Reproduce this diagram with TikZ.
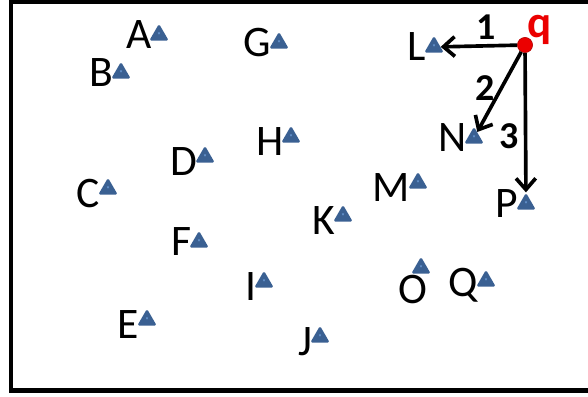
\documentclass[tikz,border=0pt]{standalone}
\usepackage{fontspec}
\setmainfont{Carlito}
\usetikzlibrary{shapes.geometric,arrows.meta,calc}

\definecolor{ptblue}{RGB}{58,96,146}
\definecolor{ptlight}{RGB}{98,144,202}
\definecolor{qred}{RGB}{235,0,0}

\tikzset{
  pt/.style={regular polygon,regular polygon sides=3,fill=ptblue,
    inner sep=0pt,minimum size=0.56cm,rounded corners=1.2pt,
    path picture={\fill[ptlight]
      ($(path picture bounding box.center)+(0,0.03)$)
      -- ++(-0.05,-0.085) -- ++(0.1,0) -- cycle;}},
  lbl/.style={font=\fontsize{31}{36}\selectfont,inner sep=0.5pt},
  lbldown/.style={lbl,yshift=-3pt},
  num/.style={font=\fontsize{27}{32}\selectfont\bfseries},
  arr/.style={-{Straight Barb[length=8pt,width=14pt]},line width=2.6pt},
}

\begin{document}
\begin{tikzpicture}[>=latex]

\useasboundingbox (0,0) rectangle (14.7,9.9);

% frame, open on the right
\draw[line width=3pt] (15,9.86) -- (0.275,9.86) -- (0.275,0.14) -- (15,0.14);

% points
\node[pt,label={[lbl]left:A}] (A) at (3.975,9.025) {};
\node[pt,label={[lbl]left:B}] (B) at (3.025,8.075) {};
\node[pt,label={[lbl]left:G}] (G) at (6.975,8.825) {};
\node[pt,label={[lbl]left:L}] (L) at (10.85,8.725) {};
\node[pt,label={[lbldown]left:H}] (H) at (7.275,6.475) {};
\node[pt,label={[lbldown]left:D}] (D) at (5.125,5.975) {};
\node[pt,label={[lbl]left:N}] (N) at (11.85,6.45) {};
\node[pt,label={[lbldown]left:C}] (C) at (2.7,5.175) {};
\node[pt,label={[lbldown]left:M}] (M) at (10.45,5.325) {};
\node[pt,label={[lbl]left:P}] (P) at (13.15,4.8) {};
\node[pt,label={[lbldown]left:K}] (K) at (8.575,4.5) {};
\node[pt,label={[lbl]left:F}] (F) at (4.975,3.85) {};
\node[pt,label={[lbldown]left:I}] (I) at (6.6,2.85) {};
\node[pt,label={[lbl,xshift=-0.2cm]below:O}] (O) at (10.525,3.2) {};
\node[pt,label={[lbldown]left:Q}] (Q) at (12.15,2.875) {};
\node[pt,label={[lbldown]left:E}] (E) at (3.675,1.9) {};
\node[pt,label={[lbldown]left:J}] (J) at (8.0,1.475) {};

% query point
\node[circle,fill=qred,draw=qred!75!black,thin,minimum size=0.38cm,inner sep=0pt,
  label={[font=\fontsize{32}{36}\selectfont\bfseries,text=qred,inner sep=0pt,
    xshift=-1pt,yshift=-5pt]60:q}]
  (q) at (13.125,8.775) {};

\draw[arr] (q) -- (L) node[num,pos=0.4,above]{1};
\draw[arr] (q) -- (N) node[num,pos=0.45,left]{2};
\draw[arr] (q) -- (P) node[num,pos=0.6,left]{3};

\end{tikzpicture}
\end{document}
